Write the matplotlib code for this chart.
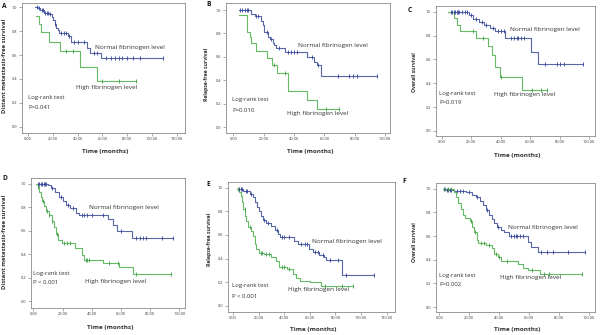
import numpy as np
import matplotlib
matplotlib.use("Agg")
import matplotlib.pyplot as plt

plt.rcParams['font.family'] = ['Open Sans', 'DejaVu Sans']

# ---------------- data ----------------
# Panel A  (Distant metastasis-free survival, cohort 1)
A_norm_start = (5.5, 1.0)
A_norm_t = [8, 10, 13, 17, 19, 20.5, 21.5, 23, 24, 25, 32, 35, 48, 50, 59]
A_norm_s = [0.99, 0.975, 0.955, 0.94, 0.92, 0.89, 0.86, 0.83, 0.81, 0.785, 0.76, 0.71, 0.66, 0.62, 0.575]
A_norm_end = 109
A_norm_cens = [7, 9, 11, 12, 14, 15, 16, 18, 22, 27, 29, 31, 33, 37, 40, 45, 53, 56,
               63, 67, 70, 73, 76, 80, 85, 90, 109]
A_high_start = (6.5, 0.93)
A_high_t = [9, 10.5, 17, 26, 42, 56]
A_high_s = [0.86, 0.79, 0.71, 0.63, 0.50, 0.38]
A_high_end = 87
A_high_cens = [31, 36, 60, 73, 87]

# Panel B  (Relapse-free survival, cohort 1)
B_norm_start = (3.5, 1.0)
B_norm_t = [12, 14, 18.5, 19.5, 20.5, 23, 24.5, 26, 27, 28, 34, 48.5, 53.5, 55, 57.5]
B_norm_s = [0.97, 0.95, 0.91, 0.87, 0.81, 0.77, 0.75, 0.72, 0.70, 0.675, 0.645, 0.60, 0.56, 0.53, 0.44]
B_norm_end = 94.5
B_norm_cens = [4.5, 6, 7.5, 9, 10, 15, 16, 22, 25, 30, 36, 38, 40, 42, 52, 56,
               69, 76.5, 78.7, 81.3, 94.5]
B_high_start = (3.5, 0.96)
B_high_t = [8.8, 11, 12, 15, 22, 25.5, 28.5, 36, 48.5, 55]
B_high_s = [0.815, 0.77, 0.72, 0.65, 0.59, 0.535, 0.465, 0.31, 0.23, 0.155]
B_high_end = 70
B_high_cens = [27, 34, 61, 70]

# Panel C  (Overall survival, cohort 1)
C_norm_start = (4.5, 1.0)
C_norm_t = [18.5, 21, 25.5, 28.5, 32.5, 36, 43, 60.5, 65.5]
C_norm_s = [0.97, 0.94, 0.915, 0.89, 0.865, 0.835, 0.78, 0.665, 0.56]
C_norm_end = 96
C_norm_cens = [6, 7, 8, 9, 10, 11, 12, 14, 16, 17, 20, 23, 27, 30, 35, 38, 40, 42,
               47, 49, 51, 52, 54, 56, 70, 78, 80, 83, 96]
C_high_start = (4.5, 1.0)
C_high_t = [8.5, 10.5, 12.5, 23, 31.5, 34, 36, 39.5, 54.5]
C_high_s = [0.95, 0.89, 0.84, 0.78, 0.71, 0.635, 0.54, 0.45, 0.34]
C_high_end = 71.5
C_high_cens = [21, 28, 40, 61, 67, 71.5]

# Panel D  (Distant metastasis-free survival, cohort 2)
D_norm_start = (1.5, 1.0)
D_norm_t = [10, 12, 15, 17.5, 20, 22.5, 25, 29, 31, 51, 54.5, 57, 67.5]
D_norm_s = [0.99, 0.965, 0.93, 0.89, 0.85, 0.82, 0.79, 0.75, 0.735, 0.70, 0.65, 0.595, 0.54]
D_norm_end = 96
D_norm_cens = [3, 4, 5, 6, 7, 8, 9, 13, 19, 24, 27, 33, 35, 37, 40, 48, 60,
               70, 73, 75, 77, 88, 96]
D_high_start = (2, 1.0)
D_high_t = [3, 4, 5, 6, 7, 8.5, 10.5, 12.5, 14, 15.5, 17, 19.5, 28.5, 33.5, 35, 47.5, 59, 68.5]
D_high_s = [0.97, 0.93, 0.89, 0.85, 0.81, 0.77, 0.73, 0.68, 0.63, 0.57, 0.52, 0.50,
            0.455, 0.39, 0.355, 0.33, 0.295, 0.235]
D_high_end = 94
D_high_cens = [3.5, 6.5, 9.5, 11, 13, 16, 21, 23, 25, 36, 37, 38, 52, 58, 70, 94]

# Panel E  (Relapse-free survival, cohort 2)
E_norm_start = (3, 0.99)
E_norm_t = [8, 13, 15.5, 17.5, 19, 20, 22, 23.5, 25.5, 30, 32.5, 35, 36.5, 48, 51,
            59.5, 62.5, 67, 71, 73, 85]
E_norm_s = [0.97, 0.95, 0.92, 0.88, 0.84, 0.80, 0.76, 0.73, 0.705, 0.675, 0.64, 0.61,
            0.58, 0.545, 0.52, 0.48, 0.46, 0.43, 0.41, 0.39, 0.265]
E_norm_end = 110
E_norm_cens = [5, 6, 7, 10, 11, 14, 24, 27, 34, 38, 40, 44, 53, 56, 58, 64, 66,
               70, 76, 82, 88, 110]
E_high_start = (3, 0.99)
E_high_t = [5, 6, 7, 8, 9.5, 10.5, 12, 14, 15.5, 17, 18, 20, 24.5, 30, 33.5, 36, 42,
            46.5, 49, 52, 60, 69]
E_high_s = [0.96, 0.93, 0.88, 0.82, 0.76, 0.72, 0.67, 0.63, 0.59, 0.52, 0.48, 0.45,
            0.44, 0.41, 0.38, 0.33, 0.31, 0.27, 0.24, 0.21, 0.20, 0.17]
E_high_end = 94
E_high_cens = [4, 9, 13, 22, 23, 26, 28, 38, 40, 44, 72, 85, 94]

# Panel F  (Overall survival, cohort 2)
F_norm_start = (2.5, 1.0)
F_norm_t = [4.5, 10, 18, 22, 24.5, 27, 29, 31, 33, 35, 36.5, 38.5, 41, 43, 46.5,
            59.5, 61.5, 66]
F_norm_s = [0.99, 0.98, 0.97, 0.95, 0.93, 0.90, 0.86, 0.82, 0.78, 0.74, 0.71, 0.68,
            0.65, 0.63, 0.60, 0.55, 0.51, 0.465]
F_norm_end = 97
F_norm_cens = [3, 5, 6, 7, 8, 12, 14, 16, 20, 25, 32, 39, 48, 50, 51, 52, 54, 56,
               68, 72, 76, 86, 97]
F_high_start = (2.5, 1.0)
F_high_t = [9.5, 11, 12.5, 14.5, 16, 17.5, 20.5, 22, 23.5, 25, 26, 31.5, 35, 36.5,
            39, 41.5, 52.5, 56, 59.5, 67]
F_high_s = [0.97, 0.93, 0.88, 0.83, 0.78, 0.75, 0.73, 0.68, 0.63, 0.57, 0.54, 0.52,
            0.50, 0.45, 0.42, 0.39, 0.36, 0.33, 0.31, 0.28]
F_high_end = 95
F_high_cens = [4, 6, 8, 21, 24, 28, 30, 33, 38, 40, 45, 62, 70, 73, 95]

panel_letters = ["A", "B", "C", "D", "E", "F"]
y_labels = ["Distant metastasis-free survival", "Relapse-free survival", "Overall survival",
            "Distant metastasis-free survival", "Relapse-free survival", "Overall survival"]
p_values = ["P=0.041", "P=0.010", "P=0.019", "P < 0.001", "P < 0.001", "P=0.002"]
x_ticks = [[0, 20, 40, 60, 80, 100, 120], [0, 20, 40, 60, 80, 100], [0, 20, 40, 60, 80, 100],
           [0, 20, 40, 60, 80, 100], [0, 20, 40, 60, 80, 100, 120], [0, 20, 40, 60, 80, 100]]
y_ticks = [0.0, 0.2, 0.4, 0.6, 0.8, 1.0]
label_normal = "Normal fibrinogen level"
label_high = "High fibrinogen level"
x_label = "Time (months)"

curves = {
    "A": [(A_norm_start, A_norm_t, A_norm_s, A_norm_end, A_norm_cens),
          (A_high_start, A_high_t, A_high_s, A_high_end, A_high_cens)],
    "B": [(B_norm_start, B_norm_t, B_norm_s, B_norm_end, B_norm_cens),
          (B_high_start, B_high_t, B_high_s, B_high_end, B_high_cens)],
    "C": [(C_norm_start, C_norm_t, C_norm_s, C_norm_end, C_norm_cens),
          (C_high_start, C_high_t, C_high_s, C_high_end, C_high_cens)],
    "D": [(D_norm_start, D_norm_t, D_norm_s, D_norm_end, D_norm_cens),
          (D_high_start, D_high_t, D_high_s, D_high_end, D_high_cens)],
    "E": [(E_norm_start, E_norm_t, E_norm_s, E_norm_end, E_norm_cens),
          (E_high_start, E_high_t, E_high_s, E_high_end, E_high_cens)],
    "F": [(F_norm_start, F_norm_t, F_norm_s, F_norm_end, F_norm_cens),
          (F_high_start, F_high_t, F_high_s, F_high_end, F_high_cens)],
}

# ---------------- layout (pixels in a 600x335 figure) ----------------
W, H = 600, 335
frames = {"A": (22, 185, 3, 133), "B": (226, 390, 3, 133), "C": (436, 595, 6, 136),
          "D": (31, 185, 178, 308), "E": (228, 395, 182, 312), "F": (436, 595, 183, 312)}
xlims = {"A": (-4.8, 126.6), "B": (-4.8, 103.3), "C": (-3.9, 103.9),
         "D": (-1.6, 103.9), "E": (-3.9, 126.5), "F": (-2.2, 104.0)}
ylims = {"A": (-0.053, 1.036), "B": (-0.049, 1.06), "C": (-0.042, 1.048),
         "D": (-0.056, 1.048), "E": (-0.051, 1.048), "F": (-0.042, 1.048)}
txt_pos = {
    "A": dict(norm=(95, 48), high=(76, 87), lr=(28, 97), yl=(5, 66), ys=4.2, xl=151, let=(2, 7)),
    "B": dict(norm=(298, 46), high=(287, 113), lr=(232, 100), yl=(207, 74), ys=3.7, xl=152, let=(206, 4)),
    "C": dict(norm=(510, 29), high=(494, 95), lr=(439, 93), yl=(415, 72), ys=3.7, xl=155, let=(408, 11)),
    "D": dict(norm=(89, 208), high=(85, 281), lr=(33, 273), yl=(5, 242), ys=4.2, xl=328, let=(2, 179)),
    "E": dict(norm=(312, 242), high=(288, 289), lr=(232, 286), yl=(210, 239), ys=3.7, xl=330, let=(206, 185)),
    "F": dict(norm=(508, 228), high=(500, 278), lr=(439, 275), yl=(415, 242), ys=3.7, xl=330, let=(402, 182)),
}

col_norm = "#5767a6"
col_norm_mk = "#34449a"
col_high = "#66bb66"
col_high_mk = "#3f9f4a"
frame_col = "#8a8a8a"
txt_col = "#333333"

fig = plt.figure(figsize=(W / 100, H / 100), dpi=100)
fig.patch.set_facecolor("white")


def step_value(start, ts, ss, x):
    t_all = np.array([start[0]] + list(ts))
    s_all = np.array([start[1]] + list(ss))
    idx = np.searchsorted(t_all, x, side="right") - 1
    idx = np.clip(idx, 0, len(s_all) - 1)
    return s_all[idx]


for i, key in enumerate(panel_letters):
    l, r, t, b = frames[key]
    ax = fig.add_axes([l / W, 1 - b / H, (r - l) / W, (b - t) / H])
    ax.set_xlim(*xlims[key])
    ax.set_ylim(*ylims[key])
    for sp in ax.spines.values():
        sp.set_color(frame_col)
        sp.set_linewidth(0.6)

    for (start, ts, ss, end, cens), lc, mc in zip(curves[key],
                                                  [col_norm, col_high],
                                                  [col_norm_mk, col_high_mk]):
        xs = [start[0]] + list(ts) + [end]
        ys = [start[1]] + list(ss) + [ss[-1]]
        ax.step(xs, ys, where="post", color=lc, lw=0.8, zorder=3)
        cy = step_value(start, ts, ss, np.array(cens))
        ax.plot(cens, cy, ls="none", marker="|", ms=2.6, mew=0.6, color=mc, zorder=4)

    ax.set_xticks(x_ticks[i])
    ax.set_xticklabels([f"{v:.2f}" for v in x_ticks[i]])
    ax.set_yticks(y_ticks)
    ax.set_yticklabels([f"{v:.1f}" for v in y_ticks])
    ax.tick_params(axis="both", labelsize=2.8, length=2.0, width=0.5, pad=1.2,
                   colors=txt_col, direction="out")
    ax.tick_params(axis="both", color=frame_col)

    tp = txt_pos[key]
    fig.text(tp["norm"][0] / W, 1 - tp["norm"][1] / H, label_normal, fontsize=4.6,
             color=txt_col, va="center", ha="left")
    fig.text(tp["high"][0] / W, 1 - tp["high"][1] / H, label_high, fontsize=4.6,
             color=txt_col, va="center", ha="left")
    fig.text(tp["lr"][0] / W, 1 - tp["lr"][1] / H, "Log-rank test", fontsize=4.3,
             color=txt_col, va="center", ha="left")
    fig.text(tp["lr"][0] / W, 1 - (tp["lr"][1] + 10) / H, p_values[i], fontsize=4.3,
             color=txt_col, va="center", ha="left")
    fig.text(tp["yl"][0] / W, 1 - tp["yl"][1] / H, y_labels[i], fontsize=tp["ys"],
             fontweight="bold", rotation=90, color=txt_col, va="center", ha="center")
    fig.text(((l + r) / 2 + 2) / W, 1 - tp["xl"] / H, x_label, fontsize=4.6,
             fontweight="bold", color=txt_col, va="center", ha="center")
    fig.text(tp["let"][0] / W, 1 - tp["let"][1] / H, key, fontsize=4.8,
             fontweight="bold", color="#111111", va="center", ha="left")

fig.savefig("out.png", dpi=100, facecolor="white")
